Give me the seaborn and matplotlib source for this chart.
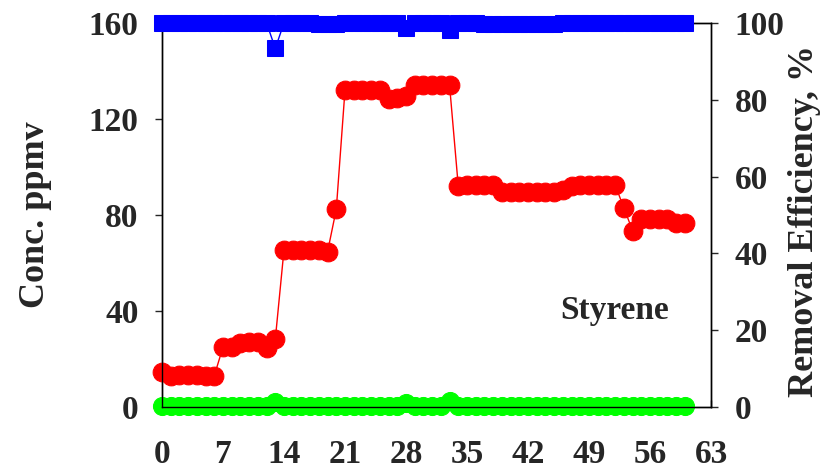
import numpy as np
import pandas as pd
import matplotlib
matplotlib.use("Agg")
import matplotlib.pyplot as plt
import seaborn as sns

days = list(range(0, 61))
inlet = [14.5, 13.0, 13.5, 13.5, 13.5, 13.0, 13.0,
         25.0, 25.0, 26.8, 27.0, 27.0, 24.4, 28.2,
         65.5, 65.5, 65.5, 65.5, 65.5, 64.7, 82.4,
         132.0, 132.0, 132.0, 132.0, 132.0, 128.4, 128.8,
         129.5, 134.0, 134.0, 134.0, 134.0, 134.0, 92.0,
         92.5, 92.5, 92.5, 92.3, 89.5, 89.5, 89.5,
         89.5, 89.5, 89.5, 89.5, 90.5, 92.0, 92.5,
         92.5, 92.5, 92.5, 92.5, 83.0, 73.5, 78.5,
         78.5, 78.5, 78.5, 76.8, 76.8]
outlet = [0.3] * 61
outlet[13] = 2.2
outlet[28] = 1.8
outlet[33] = 2.7
outlet[38] = 0.6
outlet[40] = 0.5
outlet[42] = 0.5
efficiency = [100.0] * 61
efficiency[13] = 93.4
efficiency[28] = 98.8
efficiency[33] = 98.3
for d in [18, 19, 20, 37, 38, 39, 40, 41, 42, 43, 44, 45]:
    efficiency[d] = 99.7

df = pd.DataFrame({"day": days, "inlet": inlet, "outlet": outlet, "eff": efficiency})

sns.set_style("ticks")
plt.rcParams["font.family"] = ["Liberation Serif", "DejaVu Serif"]
plt.rcParams["font.weight"] = "bold"

fig = plt.figure(figsize=(8.33, 4.70), dpi=100)
ax = fig.add_axes([162/833, 1-407/470, (711-162)/833, (407-23)/470])

sns.lineplot(data=df, x="day", y="outlet", ax=ax, color="#00ff00", marker="o",
             markersize=13, markeredgecolor="#00ff00", linewidth=1, clip_on=False, zorder=3)
sns.lineplot(data=df, x="day", y="inlet", ax=ax, color="#ff0000", marker="o",
             markersize=13.5, markeredgecolor="#ff0000", linewidth=1, clip_on=False, zorder=4)

ax.set_xlim(0, 63)
ax.set_ylim(0, 160)
ax.set_xticks(range(0, 64, 7))
ax.set_yticks([0, 40, 80, 120, 160])
ax.tick_params(axis="y", direction="out", length=5, width=1, pad=12, labelsize=24)
ax.tick_params(axis="x", direction="in", length=5, width=1, pad=23, labelsize=24)
for lab in ax.get_xticklabels() + ax.get_yticklabels():
    lab.set_fontweight("bold")
ax.set_xlabel("")
ax.set_ylabel("Conc. ppmv", fontsize=26, fontweight="bold")
ax.yaxis.set_label_coords(-0.200, 0.5)
for s in ax.spines.values():
    s.set_linewidth(1)
    s.set_color("black")

ax.text(51.9, 40.4, "Styrene", fontsize=24, fontweight="bold", ha="center", va="center")

ax2 = ax.twinx()
sns.lineplot(data=df, x="day", y="eff", ax=ax2, color="#0000ff", marker="s",
             markersize=12, markeredgecolor="#0000ff", linewidth=1, clip_on=False, zorder=5)
ax2.set_ylim(0, 100)
ax2.set_yticks([0, 20, 40, 60, 80, 100])
ax2.tick_params(axis="y", direction="out", length=5, width=1, pad=12, labelsize=24)
for lab in ax2.get_yticklabels():
    lab.set_fontweight("bold")
ax2.set_ylabel("Removal Efficiency, %", fontsize=26, fontweight="bold")
ax2.yaxis.set_label_coords(1.140, 0.484)
for s in ax2.spines.values():
    s.set_linewidth(1)
    s.set_color("black")

fig.savefig("out.png", dpi=100)
